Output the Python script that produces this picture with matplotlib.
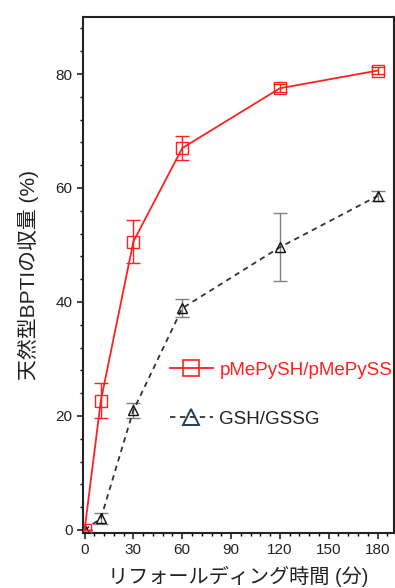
import matplotlib
matplotlib.use("Agg")
import matplotlib.pyplot as plt
from matplotlib.ticker import MultipleLocator

plt.rcParams['font.family'] = ['Liberation Sans', 'Noto Sans CJK JP', 'DejaVu Sans']

time_min = [0, 10, 30, 60, 120, 180]
pmepy_yield = [0, 22.7, 50.6, 67.0, 77.5, 80.6]
pmepy_err = [0, 3.0, 3.8, 2.1, 0.7, 0.6]
gsh_yield = [0, 2.0, 21.0, 38.9, 49.6, 58.6]
gsh_err = [0, 1.0, 1.3, 1.6, 6.0, 0.9]

labels = ["pMePySH/pMePySS", "GSH/GSSG"]
xticks = [0, 30, 60, 90, 120, 150, 180]
yticks = [0, 20, 40, 60, 80]

fig = plt.figure(figsize=(3.95, 5.88), dpi=100)
ax = fig.add_axes([0.210, 0.094, 0.787, 0.877])

ax.errorbar(time_min, gsh_yield, yerr=gsh_err, color='#333333', ls=(0, (3, 2.5)), lw=1.3,
            marker='^', ms=7, mfc='none', mec='#111111', mew=1.0,
            ecolor='#808080', elinewidth=1.0, capsize=5, capthick=1.0, zorder=2)
ax.errorbar(time_min, pmepy_yield, yerr=pmepy_err, color='#ff2020', ls='-', lw=1.3,
            marker='s', ms=8, mfc='none', mec='#ff2020', mew=1.0,
            ecolor='#ff2020', elinewidth=1.0, capsize=5, capthick=1.0, zorder=3)

# legend handles
h1, = ax.plot([], [], color='#ff2020', ls='-', lw=1.3, marker='s', ms=11, mfc='none',
              mec='#ff2020', mew=1.2)
h2, = ax.plot([], [], color='#333333', ls=(0, (3, 2.5)), lw=1.3, marker='^', ms=11,
              mfc='none', mec='#1d4060', mew=1.4)
leg = ax.legend([h1, h2], labels, loc='center left', bbox_to_anchor=(0.225, 0.268),
                frameon=False, fontsize=13.5, handlelength=2.3, handletextpad=0.35,
                labelspacing=1.7)
leg.get_texts()[0].set_color('#ff2020')
leg.get_texts()[1].set_color('#222222')

ax.set_xlim(-1, 190)
ax.set_ylim(-0.5, 90)
ax.set_xticks(xticks)
ax.set_yticks(yticks)
ax.xaxis.set_minor_locator(MultipleLocator(6))
ax.yaxis.set_minor_locator(MultipleLocator(4))
ax.tick_params(axis='both', which='major', direction='out', length=4, width=1.2,
               labelsize=11, colors='#222222')
ax.tick_params(axis='both', which='minor', direction='out', length=2.5, width=1.0)
for s in ax.spines.values():
    s.set_linewidth(1.5)
    s.set_color('#222222')

ax.set_xlabel("リフォールディング時間 (分)", fontsize=14.5, color='#222222', labelpad=6)
ax.set_ylabel("天然型BPTIの収量 (%)", fontsize=15, color='#222222', labelpad=12)

fig.savefig("out.png", dpi=100)
